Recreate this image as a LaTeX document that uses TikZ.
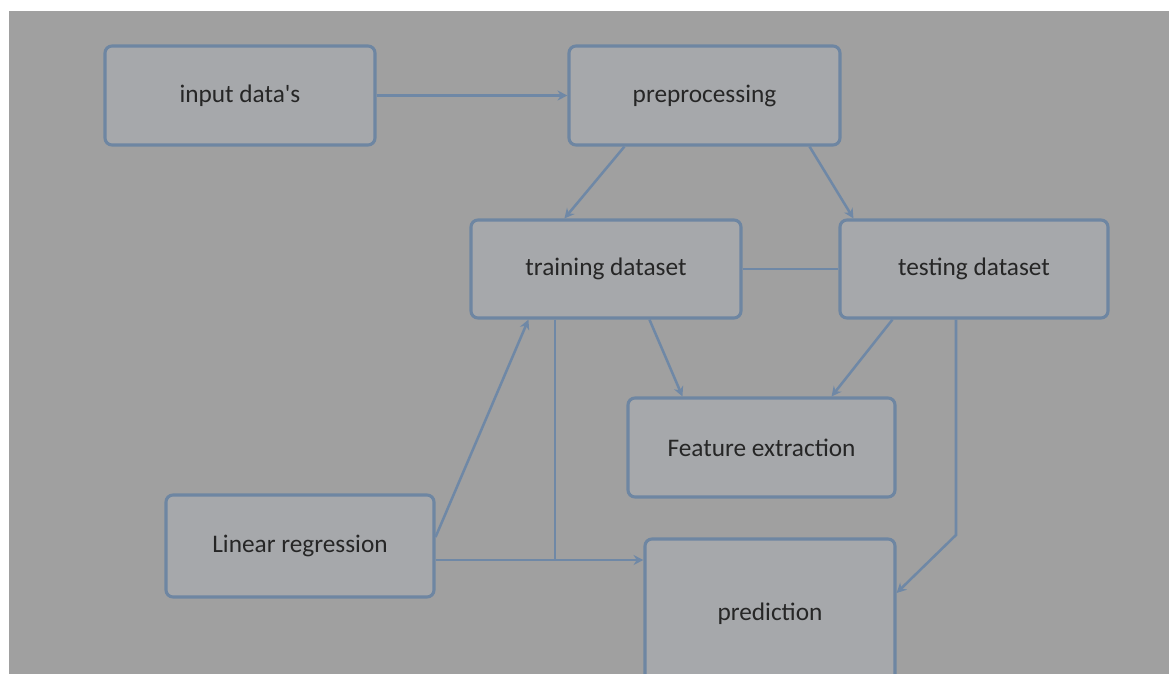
\documentclass[tikz,border=0pt]{standalone}
\usepackage{fontspec}
\setmainfont{Carlito}
\usetikzlibrary{positioning, arrows.meta}
\definecolor{pageBack}{HTML}{A0A0A0}
\definecolor{boxFill}{HTML}{A6A8AB}
\definecolor{boxDraw}{HTML}{6E86A2}
\definecolor{boxText}{HTML}{262626}
\definecolor{lineDraw}{HTML}{6F88A6}

\begin{document}
\begin{tikzpicture}[
  font=\fontsize{18}{22}\selectfont,
  box/.style={rectangle, rounded corners=5pt, draw=boxDraw, fill=boxFill,
              text=boxText, line width=2.2pt, align=center,
              minimum height=2.475cm, minimum width=6.75cm},
  arr/.style={-{Stealth[length=7pt,width=7pt]}, line width=1.8pt, draw=lineDraw},
  link/.style={line width=1.8pt, draw=lineDraw},
]

% ---- Canvas ----
\useasboundingbox (0,0) rectangle (29.225,-16.85);
\clip (0,0) rectangle (29.225,-16.85);
\fill[white] (0,0) rectangle (29.225,-16.85);
\fill[pageBack] (0.225,-0.275) rectangle (29.225,-16.85);

% ---- Row 1 ----
\node[box] (in)   at (6.0,-2.3875)     {input data\textquotesingle s};
\node[box, minimum width=6.775cm] (prep) at (17.6125,-2.3875) {preprocessing};

% ---- Row 2: split ----
\node[box, minimum height=2.45cm] (train) at (15.15,-6.725) {training dataset};
\node[box, minimum height=2.45cm, minimum width=6.7cm] (test) at (24.35,-6.725) {testing dataset};

% ---- Lower part ----
\node[box, minimum width=6.675cm] (feat) at (19.0375,-11.1875) {Feature extraction};
\node[box, minimum width=6.7cm, minimum height=2.55cm] (lr) at (7.5,-13.65) {Linear regression};
\node[box, minimum width=6.25cm, minimum height=3.75cm] (pred) at (19.25,-15.35) {prediction};

\coordinate (join) at (13.875,-14.0);
\coordinate (bend) at (23.9,-13.375);

% ---- Top arrows ----
\draw[arr] (in) -- (prep);
\draw[arr] ([xshift=1.425cm]prep.south west) -- ([xshift=2.375cm]train.north west);
\draw[arr] ([xshift=-0.8cm]prep.south east) -- ([xshift=0.375cm]test.north west);
\draw[link] (train) -- (test);

% ---- Into feature extraction ----
\draw[arr] ([xshift=4.5cm]train.south west) -- ([xshift=1.4cm]feat.north west);
\draw[arr] ([xshift=1.35cm]test.south west) -- ([xshift=-1.625cm]feat.north east);

% ---- Into prediction ----
\draw[arr] (bend |- test.south) -- (bend) -- ([yshift=0.525cm]pred.east);
\draw[arr] ([yshift=0.225cm]lr.east) -- ([xshift=1.475cm]train.south west);
\draw[link] (join |- train.south) -- (join);
\draw[arr] (lr.east |- join) -- (join -| pred.west);

\end{tikzpicture}
\end{document}
